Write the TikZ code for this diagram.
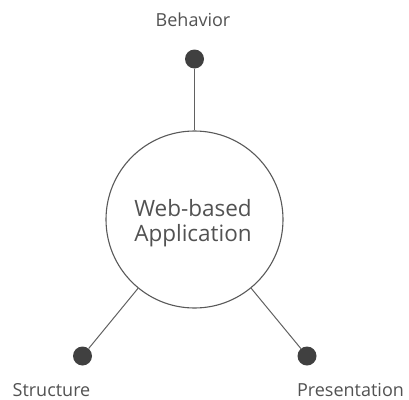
\documentclass[tikz,border=0pt]{standalone}
\usepackage{fontspec}
\setmainfont{Open Sans}
\begin{document}
\begin{tikzpicture}[x=1pt,y=-1pt,
  dotnode/.style={circle,fill=black!75,inner sep=0pt,minimum size=19pt},
  conn/.style={draw=black!62,line width=1pt},
  lbl/.style={text=black!68,font=\fontsize{18}{20}\selectfont,anchor=base,inner sep=0pt},
  hub/.style={circle,draw=black!65,line width=1.1pt,minimum size=177pt,inner sep=0pt}]
\useasboundingbox (0,0) rectangle (409,399);
\node[hub] (app) at (194.5,219.5) {};
\node[text=black!68,font=\fontsize{22.5}{25}\selectfont,anchor=base,inner sep=0pt] (t1) at (193,216.7) {Web-based};
\node[text=black!68,font=\fontsize{22.5}{25}\selectfont,anchor=base,inner sep=0pt] (t2) at (193,241.7) {Application};
\node[dotnode] (b) at (194.5,59) {};
\node[dotnode] (s) at (82.5,356) {};
\node[dotnode] (p) at (307,356) {};
\draw[conn] (b) -- (app);
\draw[conn] (s) -- (app);
\draw[conn] (p) -- (app);
\node[lbl] (lb) at (193,26) {Behavior};
\node[lbl] (ls) at (51.5,396) {Structure};
\node[lbl] (lp) at (350.5,396) {Presentation};
\end{tikzpicture}
\end{document}
